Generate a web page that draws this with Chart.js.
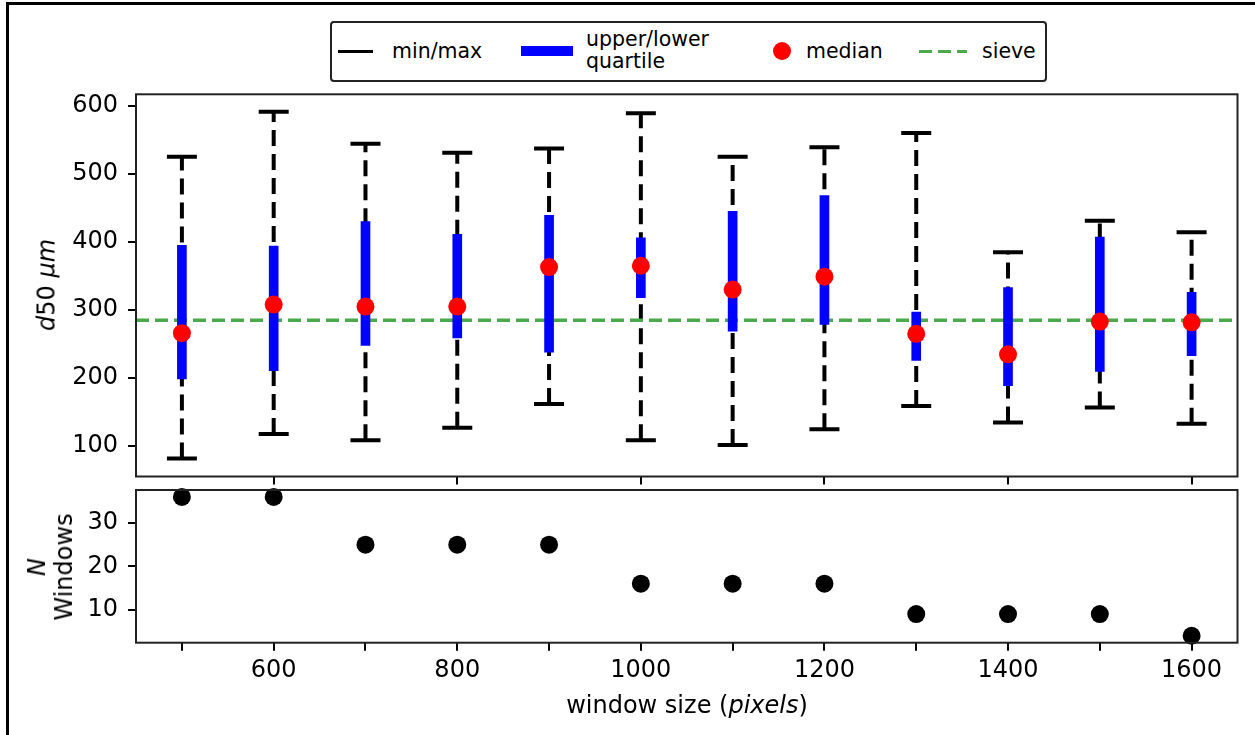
<!DOCTYPE html>
<html>
<head>
<meta charset="utf-8">
<script src="https://cdn.jsdelivr.net/npm/chart.js@4"></script>
<style>
  html, body { margin: 0; padding: 0; background: #fff; }
  #fig { position: relative; width: 1255px; height: 735px; background: #fff; overflow: hidden;
         font-family: "DejaVu Sans", sans-serif; color: #000; }
  #frame { position: absolute; left: 6px; top: 2px; width: 1260px; height: 740px;
           border-top: 3px solid #000; border-left: 3px solid #000; }
  canvas { position: absolute; left: 0; }
  .lbl { position: absolute; white-space: nowrap; font-size: 24px; line-height: 27px; }
  .rot { transform: translate(-50%, -50%) rotate(-90deg); text-align: center; }
  #legend { position: absolute; left: 330px; top: 21px; width: 713px; height: 57px;
            border: 2px solid #222; border-radius: 4px; background: #fff; }
  .lg { position: absolute; font-size: 20.5px; line-height: 22px; }
  .sym { position: absolute; }
</style>
</head>
<body>
<div id="fig">
  <div id="frame"></div>
  <canvas id="chart-top" width="1255" height="490" style="top:0"></canvas>
  <canvas id="chart-n" width="1255" height="248" style="top:487px"></canvas>

  <div id="legend">
    <div class="sym" style="left:6px;top:27px;width:35px;height:3px;background:#000"></div>
    <div class="lg" style="left:60px;top:17px">min/max</div>
    <div class="sym" style="left:189px;top:23px;width:52px;height:10px;background:#0000ff"></div>
    <div class="lg" style="left:254px;top:5px">upper/lower<br>quartile</div>
    <div class="sym" style="left:441px;top:19px;width:18px;height:18px;border-radius:50%;background:#ff0000"></div>
    <div class="lg" style="left:474px;top:17px">median</div>
    <div class="sym" style="left:587px;top:27px;width:48px;height:3px;
         background:repeating-linear-gradient(90deg,#4caa4c 0 13px,transparent 13px 19px)"></div>
    <div class="lg" style="left:650px;top:17px">sieve</div>
  </div>

  <div class="lbl rot" style="left:47px;top:285px"><i>d</i>50 <i>μm</i></div>
  <div class="lbl rot" style="left:51px;top:567px"><i>N</i><br>Windows</div>
  <div class="lbl" style="left:687px;top:705px;transform:translate(-50%,-50%)">window size (<i>pixels</i>)</div>
</div>

<script>
// d50 per window size

const SIZES     = [500, 600, 700, 800, 900, 1000, 1100, 1200, 1300, 1400, 1500, 1600];
const D_MAX     = [525, 591, 544, 531, 537, 589, 525, 539, 560, 385, 431, 414];
const D_MIN     = [82, 118, 109, 127, 162, 109, 102, 125, 159, 135, 157, 133];
const Q_UPPER   = [395, 394, 430, 411, 439, 406, 445, 468, 297, 333, 407, 326];
const Q_LOWER   = [199, 211, 248, 259, 238, 318, 269, 279, 226, 189, 210, 233];
const MEDIAN    = [266, 308, 305, 305, 363, 365, 330, 349, 265, 235, 283, 282];
const SIEVE     = 285;
const N_WINDOWS = [36, 36, 25, 25, 25, 16, 16, 16, 9, 9, 9, 4];

const X_TICKS_TOP = [600, 800, 1000, 1200, 1400, 1600];
const X_TICKS_BOTTOM = SIZES;
const D50_TICKS = [100, 200, 300, 400, 500, 600];
const N_TICKS = [10, 20, 30];

const X_RANGE = [450, 1650];
const D50_RANGE = [55.6, 616.7];
const N_RANGE = [2.4, 37.6];

const FONT = { family: 'DejaVu Sans', size: 24 };
const INK = '#000';

// --- helpers ---

const frameBox = {
  id: 'frameBox',
  afterDatasetsDraw(chart) {
    const { ctx, chartArea: a } = chart;
    ctx.save();
    ctx.strokeStyle = '#222';
    ctx.lineWidth = 2;
    ctx.strokeRect(a.left, a.top, a.right - a.left, a.bottom - a.top);
    ctx.restore();
  },
};

function fixedTicks(values) {
  return scale => { scale.ticks = values.map(v => ({ value: v })); };
}

function xScale(ticks, showLabels, height) {
  return {
    type: 'linear',
    min: X_RANGE[0],
    max: X_RANGE[1],
    offset: false,
    afterBuildTicks: fixedTicks(ticks),
    afterFit: s => {
      s.height = height;
      s.paddingLeft = 0;
      s.paddingRight = 0;
    },
    grid: { display: true, drawOnChartArea: false, drawTicks: true, tickLength: 8,
            color: INK, lineWidth: 2, offset: false },
    border: { display: false },
    ticks: {
      display: showLabels,
      color: INK,
      font: FONT,
      padding: 6,
      maxRotation: 0,
      autoSkip: false,
      callback: v => (v % 200 === 0 ? String(v) : ''),
    },
  };
}

function yScale(range, ticks) {
  return {
    type: 'linear',
    min: range[0],
    max: range[1],
    afterBuildTicks: fixedTicks(ticks),
    afterFit: s => {
      s.width = 100;
      s.paddingTop = 0;
      s.paddingBottom = 0;
    },
    grid: { display: true, drawOnChartArea: false, drawTicks: true, tickLength: 8,
            color: INK, lineWidth: 2 },
    border: { display: false },
    ticks: { color: INK, font: FONT, padding: 10, autoSkip: false },
  };
}

// --- top panel: d50 spread per window size ---

const whiskers = [];
SIZES.forEach((s, i) => {
  whiskers.push({ x: s, y: D_MIN[i] }, { x: s, y: D_MAX[i] }, { x: s, y: null });
});

const caps = [];
SIZES.forEach((s, i) => {
  caps.push({ x: s, y: D_MIN[i] }, { x: s, y: D_MAX[i] });
});

new Chart(document.getElementById('chart-top'), {
  type: 'scatter',
  data: {
    datasets: [
      {
        label: 'median',
        data: SIZES.map((s, i) => ({ x: s, y: MEDIAN[i] })),
        backgroundColor: '#ff0000',
        borderWidth: 0,
        pointRadius: 9,
        order: 0,
      },
      {
        type: 'bar',
        label: 'upper/lower quartile',
        data: SIZES.map((s, i) => ({ x: s, y: [Q_LOWER[i], Q_UPPER[i]] })),
        backgroundColor: '#0000ff',
        borderWidth: 0,
        barThickness: 9,
        grouped: false,
        order: 1,
      },
      {
        label: 'sieve',
        type: 'line',
        data: [{ x: X_RANGE[0], y: SIEVE }, { x: X_RANGE[1], y: SIEVE }],
        borderColor: '#4caa4c',
        borderWidth: 3.5,
        borderDash: [13, 6],
        pointRadius: 0,
        order: 2,
      },
      {
        label: 'caps',
        data: caps,
        pointStyle: 'line',
        pointRadius: 15,
        borderColor: INK,
        borderWidth: 4,
        order: 3,
      },
      {
        label: 'min/max',
        type: 'line',
        data: whiskers,
        borderColor: INK,
        borderWidth: 4,
        borderDash: [16, 8],
        pointRadius: 0,
        spanGaps: false,
        order: 4,
      },
    ],
  },
  options: {
    responsive: false,
    animation: false,
    layout: { autoPadding: false, padding: { left: 36, right: 17.5, top: 94.3, bottom: 3.5 } },
    plugins: { legend: { display: false }, tooltip: { enabled: false } },
    scales: {
      x: xScale(X_TICKS_TOP, false, 10),
      y: yScale(D50_RANGE, D50_TICKS),
    },
  },
  plugins: [frameBox],
});

// --- bottom panel: number of windows ---

new Chart(document.getElementById('chart-n'), {
  type: 'scatter',
  data: {
    datasets: [{
      label: 'N windows',
      data: SIZES.map((s, i) => ({ x: s, y: N_WINDOWS[i] })),
      backgroundColor: INK,
      borderWidth: 0,
      pointRadius: 9,
      clip: false,
    }],
  },
  options: {
    responsive: false,
    animation: false,
    layout: { autoPadding: false, padding: { left: 36, right: 17.5, top: 3, bottom: 32.3 } },
    plugins: { legend: { display: false }, tooltip: { enabled: false } },
    scales: {
      x: xScale(X_TICKS_BOTTOM, true, 60),
      y: yScale(N_RANGE, N_TICKS),
    },
  },
  plugins: [frameBox],
});
</script>
</body>
</html>
